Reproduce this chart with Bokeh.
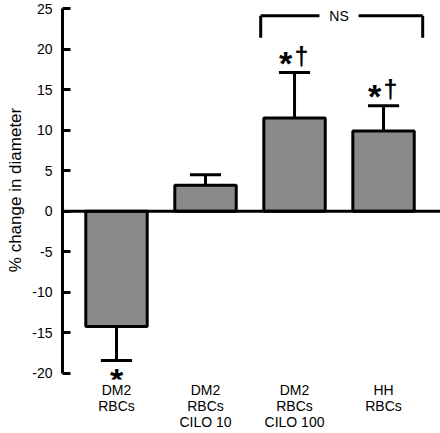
from bokeh.plotting import figure
from bokeh.models import Range1d, FixedTicker, Span, ColumnDataSource
from bokeh.embed import file_html
from bokeh.resources import INLINE
from bokeh.core.properties import value

# ---- data ----
categories = ["DM2\nRBCs", "DM2\nRBCs\nCILO 10", "DM2\nRBCs\nCILO 100", "HH\nRBCs"]
means = [-14.2, 3.2, 11.5, 9.9]
errors = [4.2, 1.3, 5.6, 3.1]
star_marks = [True, False, True, True]
dagger_marks = [False, False, True, True]
y_ticks = [-20, -15, -10, -5, 0, 5, 10, 15, 20, 25]
ns_pair = (3, 4)
ns_label = "NS"

FONT = "Liberation Sans"
xs = list(range(1, len(categories) + 1))
ends = [m + (e if m >= 0 else -e) for m, e in zip(means, errors)]

p = figure(width=440, height=433, output_backend="svg", toolbar_location=None,
           x_range=Range1d(0.3933, 4.640), y_range=Range1d(-20.74, 25.99),
           min_border_left=62, min_border_right=0, min_border_top=0, min_border_bottom=54)
p.outline_line_color = None
p.xgrid.visible = False
p.ygrid.visible = False
p.background_fill_color = "white"
p.border_fill_color = "white"

# bars
src = ColumnDataSource(dict(x=xs, top=means, end=ends))
p.vbar(x="x", width=0.69, top="top", bottom=0, source=src,
       fill_color="#8a8a8a", line_color="black", line_width=3)

# error bars (one sided)
p.segment(x0="x", y0="top", x1="x", y1="end", source=src, line_color="black", line_width=3)
cap = 0.175
p.segment(x0=[x - cap for x in xs], y0=ends, x1=[x + cap for x in xs], y1=ends,
          line_color="black", line_width=3)

# zero line
p.add_layout(Span(location=0, dimension="width", line_color="black", line_width=3))

# significance marks
sp = [i for i in range(len(xs)) if star_marks[i] and means[i] >= 0]
sn = [i for i in range(len(xs)) if star_marks[i] and means[i] < 0]
dp = [i for i in range(len(xs)) if dagger_marks[i]]
p.text(x=[xs[i] for i in sp], y=[ends[i] for i in sp], text=["*"] * len(sp),
       x_offset=-9, y_offset=-10,
       text_font=value(FONT), text_font_size="34px", text_font_style="bold",
       text_align="center", text_baseline="alphabetic", text_color="black")
p.text(x=[xs[i] for i in sn], y=[ends[i] for i in sn], text=["*"] * len(sn),
       x_offset=0, y_offset=19,
       text_font=value(FONT), text_font_size="34px", text_font_style="bold",
       text_align="center", text_baseline="alphabetic", text_color="black")
p.text(x=[xs[i] for i in dp], y=[ends[i] for i in dp], text=["\u2020"] * len(dp),
       x_offset=7, y_offset=-17,
       text_font=value(FONT), text_font_size="25px", text_font_style="bold",
       text_align="center", text_baseline="alphabetic", text_color="black")

# NS bracket
bl, br = ns_pair[0] - 0.38, ns_pair[1] + 0.44
by, bleg = 24.1, 21.4
mid = (ns_pair[0] + ns_pair[1]) / 2
gap = 0.22
p.segment(x0=[bl, mid + gap, bl, br], y0=[by, by, by, by],
          x1=[mid - gap, br, bl, br], y1=[by, by, bleg, bleg],
          line_color="black", line_width=3)
p.text(x=[mid], y=[by], text=[ns_label], text_font=value(FONT), text_font_size="14px",
       text_align="center", text_baseline="middle", text_color="black")

# y axis
ya = p.yaxis[0]
ya.bounds = (y_ticks[0], y_ticks[-1])
ya.ticker = FixedTicker(ticks=y_ticks)
ya.major_label_overrides = {t: str(t) for t in y_ticks}
ya.axis_line_width = 3
ya.axis_line_color = "black"
ya.major_tick_line_width = 3
ya.major_tick_line_color = "black"
ya.major_tick_in = 8
ya.major_tick_out = 0
ya.minor_tick_line_color = None
ya.major_label_standoff = 10
ya.major_label_text_font = FONT
ya.major_label_text_font_size = "14px"
ya.major_label_text_color = "black"
ya.axis_label = "% change in diameter"
ya.axis_label_text_font = FONT
ya.axis_label_text_font_size = "17px"
ya.axis_label_text_font_style = "normal"
ya.axis_label_text_color = "black"
ya.axis_label_standoff = 4

# x axis
xa = p.xaxis[0]
xa.ticker = FixedTicker(ticks=xs)
xa.major_label_overrides = {x: c for x, c in zip(xs, categories)}
xa.axis_line_color = None
xa.major_tick_line_color = None
xa.major_tick_in = 0
xa.major_tick_out = 0
xa.minor_tick_line_color = None
xa.major_label_standoff = 2
xa.major_label_text_font = FONT
xa.major_label_text_font_size = "14px"
xa.major_label_text_color = "black"
xa.major_label_text_line_height = 1.0

open("out.html", "w").write(file_html(p, INLINE))
